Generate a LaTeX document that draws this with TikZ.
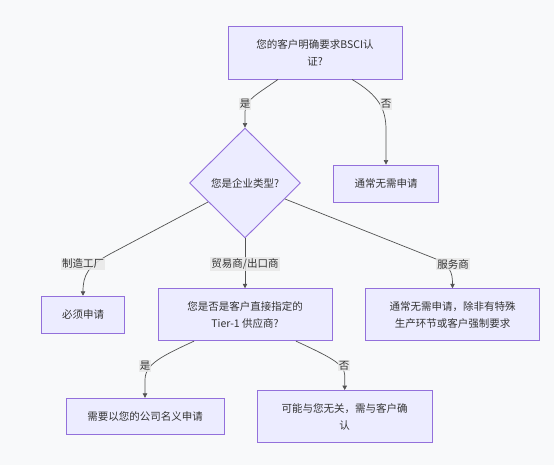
\documentclass[tikz,border=0pt]{standalone}
\usepackage{fontspec}
\setmainfont{Noto Sans CJK SC}
\usetikzlibrary{shapes.geometric,arrows.meta}
\definecolor{bg}{HTML}{F8F9FA}
\definecolor{boxfill}{HTML}{ECECFF}
\definecolor{boxline}{HTML}{9370DB}
\definecolor{ink}{HTML}{333333}
\definecolor{lblbg}{HTML}{E8E8E8}
\tikzset{
  box/.style={draw=boxline, fill=boxfill, line width=0.9pt, align=center,
    text=ink, font=\fontsize{10.5pt}{17pt}\selectfont, inner sep=0pt},
  dec/.style={box, diamond, minimum width=111pt, minimum height=110pt},
  edge/.style={draw=ink!85, line width=0.7pt, -{Triangle[length=4.5pt,width=4.5pt]}},
  lbl/.style={fill=lblbg, fill opacity=0.85, text opacity=1, text=ink,
    font=\fontsize{10.5pt}{12pt}\selectfont, inner sep=1.2pt}
}
\begin{document}
\begin{tikzpicture}[x=1pt,y=-1pt]
\fill[bg] (0,0) rectangle (554,465);
\useasboundingbox (0,0) rectangle (554,465);

\node[box, minimum width=174pt, minimum height=53pt] (top) at (315,52.5) {您的客户明确要求BSCI认\\证?};
\node[box, minimum width=105pt, minimum height=37pt] (no1) at (386,183.5) {通常无需申请};
\node[dec] (dia) at (245,183) {您是企业类型?};
\node[box, minimum width=83pt, minimum height=37pt] (mfg) at (83,314.7) {必须申请};
\node[box, minimum width=174pt, minimum height=52pt] (tier) at (245,314.7) {您是否是客户直接指定的\\Tier-1 供应商?};
\node[box, minimum width=174pt, minimum height=52pt] (svc) at (452.5,314.7) {通常无需申请，除非有特殊\\生产环节或客户强制要求};
\node[box, minimum width=158pt, minimum height=36pt] (yes2) at (145,416.3) {需要以您的公司名义申请};
\node[box, minimum width=175pt, minimum height=52pt] (no2) at (344.7,416.5) {可能与您无关，需与客户确\\认};

% edges
\draw[edge] ([xshift=-37pt]top.south) .. controls (256,95) and (245,100) .. (245,112) -- (dia.north);
\draw[edge] ([xshift=37pt]top.south) .. controls (378,95) and (386,108) .. (386,130) -- (no1.north);
\draw[edge] ([xshift=-37pt,yshift=-19pt]dia.center) -- (110,254) .. controls (88,266) and (83,275) .. (mfg.north);
\draw[edge] (dia.south) -- (tier.north);
\draw[edge] ([xshift=40pt,yshift=-16pt]dia.center) -- (436,259) .. controls (450,266) and (452.5,272) .. (svc.north);
\draw[edge] ([xshift=-51pt]tier.south) .. controls (162,356) and (145,364) .. (145,380) -- (yes2.north);
\draw[edge] ([xshift=51pt]tier.south) .. controls (328,356) and (344.7,364) .. (344.7,375) -- (no2.north);

% labels
\node[lbl] (l1) at (245,104) {是};
\node[lbl] (l2) at (386,104) {否};
\node[lbl] (l3) at (83,264) {制造工厂};
\node[lbl] (l4) at (245,264) {贸易商/出口商};
\node[lbl] (l5) at (453,264) {服务商};
\node[lbl] (l6) at (145,365.7) {是};
\node[lbl] (l7) at (344,365.7) {否};
\end{tikzpicture}
\end{document}
